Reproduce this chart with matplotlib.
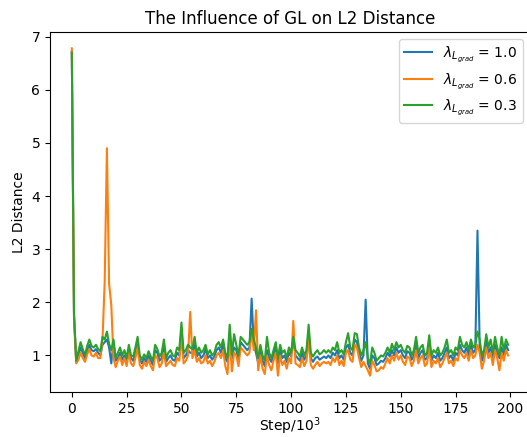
import numpy as np
import matplotlib
matplotlib.use("Agg")
import matplotlib.pyplot as plt

steps = list(range(0, 200))

l2_lam10 = [
    6.72, 1.75, 0.88, 1.0, 1.15, 1.05, 0.95, 1.1, 1.2, 1.1,
    1.08, 1.12, 1.05, 1.0, 1.2, 1.25, 1.3, 1.15, 0.85, 1.25,
    0.9, 0.95, 1.05, 0.92, 1.0, 0.88, 1.1, 0.95, 0.9, 1.05,
    1.2, 0.92, 0.85, 0.95, 0.88, 1.0, 0.9, 0.82, 1.1, 1.05,
    0.9, 0.95, 1.15, 0.88, 0.95, 1.0, 0.92, 0.9, 1.05, 1.0,
    1.45, 0.95, 1.0, 1.1, 1.05, 1.05, 1.2, 0.98, 1.05, 0.95,
    1.0, 1.12, 0.95, 1.0, 0.92, 0.98, 1.1, 1.15, 1.05, 1.2,
    0.95, 0.88, 1.4, 0.95, 1.15, 1.1, 0.9, 1.25, 1.2, 1.15,
    1.1, 1.15, 2.07, 1.2, 1.05, 0.85, 1.1, 0.9, 0.8, 1.1,
    0.95, 0.88, 1.0, 1.15, 0.85, 1.1, 0.95, 1.0, 0.88, 1.05,
    0.98, 1.3, 1.0, 0.95, 0.9, 1.05, 0.92, 1.0, 1.4, 0.95,
    0.88, 0.95, 0.98, 0.92, 0.95, 0.98, 0.95, 1.0, 0.95, 1.05,
    1.0, 1.1, 0.95, 1.0, 0.92, 1.15, 1.2, 1.05, 1.0, 1.3,
    1.25, 1.05, 0.9, 1.0, 2.05, 0.85, 0.75, 1.0, 0.95, 0.82,
    0.85, 0.9, 0.88, 0.95, 1.05, 0.98, 1.1, 1.0, 1.15, 1.05,
    1.1, 1.0, 0.95, 1.08, 1.05, 0.92, 1.0, 1.2, 0.95, 1.05,
    1.1, 0.92, 0.95, 1.25, 0.9, 1.0, 0.95, 1.05, 0.9, 0.95,
    1.05, 1.15, 0.95, 1.0, 0.9, 1.05, 1.0, 1.2, 1.1, 1.05,
    1.15, 1.0, 1.2, 1.05, 1.1, 3.35, 1.2, 0.9, 1.0, 1.25,
    1.05, 1.15, 0.95, 1.2, 1.05, 0.95, 1.15, 1.0, 1.2, 1.1,
]

l2_lam06 = [
    6.78, 1.7, 0.85, 0.92, 1.05, 0.95, 0.88, 1.02, 1.12, 1.0,
    0.98, 1.05, 0.95, 0.95, 1.3, 2.4, 4.9, 2.35, 1.95, 0.95,
    0.78, 0.9, 0.98, 0.82, 0.95, 0.8, 1.05, 0.85, 0.8, 0.95,
    1.15, 0.82, 0.75, 0.88, 0.8, 0.92, 0.8, 0.72, 1.0, 0.95,
    0.78, 0.85, 1.05, 0.8, 0.85, 0.9, 0.82, 0.8, 0.95, 0.9,
    1.35, 0.85, 0.9, 1.0, 1.82, 0.95, 1.1, 0.88, 0.95, 0.85,
    0.88, 1.0, 0.85, 0.9, 0.8, 0.88, 1.0, 1.05, 0.95, 1.1,
    0.8, 0.65, 1.3, 0.7, 1.05, 1.0, 0.8, 1.15, 1.1, 1.05,
    1.0, 1.05, 1.45, 1.1, 1.85, 0.72, 1.0, 0.75, 0.65, 1.0,
    0.82, 0.72, 0.9, 1.05, 0.62, 1.0, 0.82, 0.9, 0.75, 0.95,
    0.85, 1.65, 0.85, 0.82, 0.78, 0.95, 0.8, 0.9, 1.3, 0.82,
    0.75, 0.82, 0.88, 0.8, 0.85, 0.88, 0.85, 0.88, 0.82, 0.95,
    0.88, 1.0, 0.82, 0.9, 0.8, 1.05, 1.1, 0.92, 0.88, 1.2,
    1.15, 0.95, 0.78, 0.88, 0.8, 0.72, 0.62, 0.9, 0.82, 0.7,
    0.72, 0.78, 0.75, 0.85, 0.95, 0.85, 1.0, 0.9, 1.05, 0.92,
    1.0, 0.88, 0.82, 0.98, 0.95, 0.8, 0.9, 1.1, 0.85, 0.95,
    1.0, 0.8, 0.85, 1.15, 0.78, 0.9, 0.85, 0.95, 0.78, 0.85,
    0.95, 1.05, 0.85, 0.9, 0.8, 0.95, 0.9, 1.1, 1.0, 0.95,
    1.05, 0.9, 1.1, 0.95, 1.0, 1.2, 1.05, 0.75, 0.9, 1.15,
    0.95, 1.05, 0.82, 1.1, 0.95, 0.72, 1.05, 0.9, 1.1, 1.0,
]

l2_lam03 = [
    6.7, 1.8, 0.9, 1.08, 1.25, 1.12, 1.0, 1.18, 1.3, 1.18,
    1.15, 1.2, 1.12, 1.08, 1.35, 1.3, 1.45, 1.22, 1.1, 1.3,
    0.95, 1.05, 1.15, 1.0, 1.1, 0.95, 1.2, 1.0, 0.98, 1.15,
    1.35, 1.0, 0.92, 1.02, 0.95, 1.08, 0.98, 0.9, 1.2, 1.12,
    0.98, 1.05, 1.3, 0.95, 1.05, 1.1, 1.0, 0.98, 1.15, 1.1,
    1.62, 1.05, 1.1, 1.2, 1.15, 1.12, 1.35, 1.05, 1.15, 1.05,
    1.1, 1.2, 1.02, 1.1, 1.0, 1.05, 1.2, 1.25, 1.15, 1.3,
    1.05, 0.95, 1.58, 1.02, 1.4, 1.2, 1.0, 1.35, 1.3, 1.25,
    1.2, 1.25, 1.5, 1.3, 1.15, 0.95, 1.2, 1.0, 0.9, 1.35,
    1.05, 0.95, 1.1, 1.25, 0.95, 1.2, 1.05, 1.1, 0.95, 1.15,
    1.05, 1.35, 1.1, 1.05, 0.98, 1.15, 1.0, 1.1, 1.58, 1.05,
    0.98, 1.05, 1.1, 1.02, 1.05, 1.1, 1.05, 1.1, 1.05, 1.15,
    1.1, 1.25, 1.05, 1.1, 1.02, 1.25, 1.42, 1.15, 1.1, 1.42,
    1.4, 1.15, 1.0, 1.1, 1.25, 0.95, 0.85, 1.15, 1.05, 0.9,
    0.95, 1.0, 0.98, 1.05, 1.15, 1.05, 1.22, 1.1, 1.25, 1.15,
    1.2, 1.1, 1.05, 1.18, 1.15, 1.0, 1.1, 1.35, 1.05, 1.15,
    1.2, 1.0, 1.05, 1.38, 1.0, 1.1, 1.05, 1.15, 1.0, 1.05,
    1.15, 1.3, 1.05, 1.1, 1.0, 1.15, 1.1, 1.35, 1.2, 1.15,
    1.25, 1.1, 1.3, 1.15, 1.2, 1.45, 1.3, 1.0, 1.1, 1.4,
    1.15, 1.3, 1.05, 1.35, 1.15, 1.0, 1.35, 1.1, 1.3, 1.2,
]

labels = [r'$\lambda_{L_{grad}}$ = 1.0', r'$\lambda_{L_{grad}}$ = 0.6', r'$\lambda_{L_{grad}}$ = 0.3']

fig = plt.figure(figsize=(5.27, 4.37), dpi=100)
ax = fig.add_axes([50 / 527, 1 - 392 / 437, 480 / 527, 360 / 437])

ax.plot(steps, l2_lam10, label=labels[0])
ax.plot(steps, l2_lam06, label=labels[1])
ax.plot(steps, l2_lam03, label=labels[2])

ax.set_title('The Influence of GL on L2 Distance')
ax.set_xlabel('Step/$10^3$', labelpad=0)
ax.set_ylabel('L2 Distance')
ax.set_xticks([0, 25, 50, 75, 100, 125, 150, 175, 200])
ax.legend(loc='upper right')

fig.savefig('out.png', dpi=100)
